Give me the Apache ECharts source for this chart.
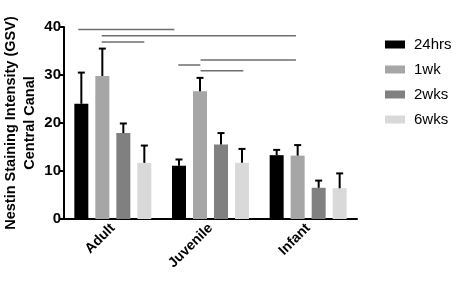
<!DOCTYPE html>
<html>
<head>
<meta charset="utf-8">
<script src="https://cdn.jsdelivr.net/npm/echarts@6/dist/echarts.min.js"></script>
<style>
  html, body { margin: 0; padding: 0; background: #fff; }
  #chart { width: 459px; height: 282px; }
</style>
</head>
<body>
<div id="chart"></div>
<script>
// groups on the x axis
var categories = ['Adult', 'Juvenile', 'Infant'];
var seriesNames = ['24hrs', '1wk', '2wks', '6wks'];
var colors = ['#000000', '#a6a6a6', '#808080', '#d9d9d9'];

// mean values, one array per time point (Adult, Juvenile, Infant)
var mean24hrs = [24.0, 11.1, 13.3];
var mean1wk = [29.8, 26.6, 13.2];
var mean2wks = [17.9, 15.5, 6.5];
var mean6wks = [11.7, 11.7, 6.4];

// top of the error bars
var err24hrs = [30.5, 12.4, 14.4];
var err1wk = [35.5, 29.4, 15.4];
var err2wks = [19.9, 17.9, 8.0];
var err6wks = [15.3, 14.6, 9.5];

var yTicks = [0, 10, 20, 30, 40];

// significance lines: [xStart, xEnd, y] in group units (0..3) / data units
var sigLines = [
  [0.146, 1.130, 39.5],
  [0.386, 2.375, 38.2],
  [0.386, 0.822, 36.9],
  [1.170, 1.396, 32.1],
  [1.399, 2.375, 33.1],
  [1.399, 1.836, 30.9]
];

var means = [mean24hrs, mean1wk, mean2wks, mean6wks];
var errs = [err24hrs, err1wk, err2wks, err6wks];

var myChart = echarts.init(document.getElementById('chart'));

var barW = 14, stride = 21;
var series = [];
seriesNames.forEach(function (name, i) {
  series.push({
    name: name,
    type: 'bar',
    barWidth: barW,
    barGap: '50%',
    itemStyle: { color: colors[i] },
    silent: true,
    data: means[i]
  });
});

// error bars (upper only)
var errData = [];
means.forEach(function (m, s) {
  m.forEach(function (v, c) {
    errData.push([c, s, v, errs[s][c]]);
  });
});
series.push({
  type: 'custom',
  silent: true,
  z: 5,
  renderItem: function (params, api) {
    var c = api.value(0), s = api.value(1);
    var off = (s - 1.5) * stride;
    var p0 = api.coord([c, api.value(2)]);
    var p1 = api.coord([c, api.value(3)]);
    var x = p0[0] + off;
    var st = { stroke: '#000', lineWidth: 2 };
    return {
      type: 'group',
      children: [
        { type: 'line', shape: { x1: x, y1: p0[1], x2: x, y2: p1[1] }, style: st },
        { type: 'line', shape: { x1: x - 3.5, y1: p1[1], x2: x + 3.5, y2: p1[1] }, style: st }
      ]
    };
  },
  encode: { x: 0, y: 3 },
  data: errData
});

// significance brackets on a hidden value x axis
sigLines.forEach(function (l) {
  series.push({
    type: 'line',
    xAxisIndex: 1,
    silent: true,
    symbol: 'none',
    lineStyle: { color: '#6e6e6e', width: 1.5 },
    data: [[l[0], l[2]], [l[1], l[2]]]
  });
});

var option = {
  animation: false,
  textStyle: { fontFamily: 'Liberation Sans, Arial, sans-serif' },
  grid: { left: 64, right: 102, top: 27, bottom: 63, outerBoundsMode: 'none', containLabel: false },
  legend: {
    data: seriesNames,
    orient: 'vertical',
    left: 380,
    top: 32,
    itemWidth: 20,
    itemHeight: 8,
    itemGap: 10,
    icon: 'rect',
    textStyle: { fontSize: 15, color: '#000', padding: [0, 0, 0, 4] }
  },
  xAxis: [
    {
      type: 'category',
      data: categories,
      axisLine: { lineStyle: { color: '#000', width: 2 } },
      axisTick: { alignWithLabel: true, length: 5, lineStyle: { color: '#000', width: 2 } },
      axisLabel: { rotate: 45, fontSize: 14, fontWeight: 'bold', color: '#000', margin: 7 }
    },
    { type: 'value', min: 0, max: 3, show: false }
  ],
  yAxis: {
    type: 'value',
    min: yTicks[0],
    max: yTicks[yTicks.length - 1],
    interval: 10,
    name: 'Nestin Staining Intensity (GSV)\nCentral Canal',
    nameLocation: 'middle',
    nameGap: 25,
    nameMoveOverlap: false,
    nameTextStyle: { fontSize: 14.5, fontWeight: 'bold', color: '#000', lineHeight: 19 },
    axisLine: { show: true, lineStyle: { color: '#000', width: 2 } },
    axisTick: { show: true, length: 5, lineStyle: { color: '#000', width: 2 } },
    axisLabel: { fontSize: 15, fontWeight: 'bold', color: '#000', margin: 3 },
    splitLine: { show: false }
  },
  series: series
};

myChart.setOption(option);
</script>
</body>
</html>
